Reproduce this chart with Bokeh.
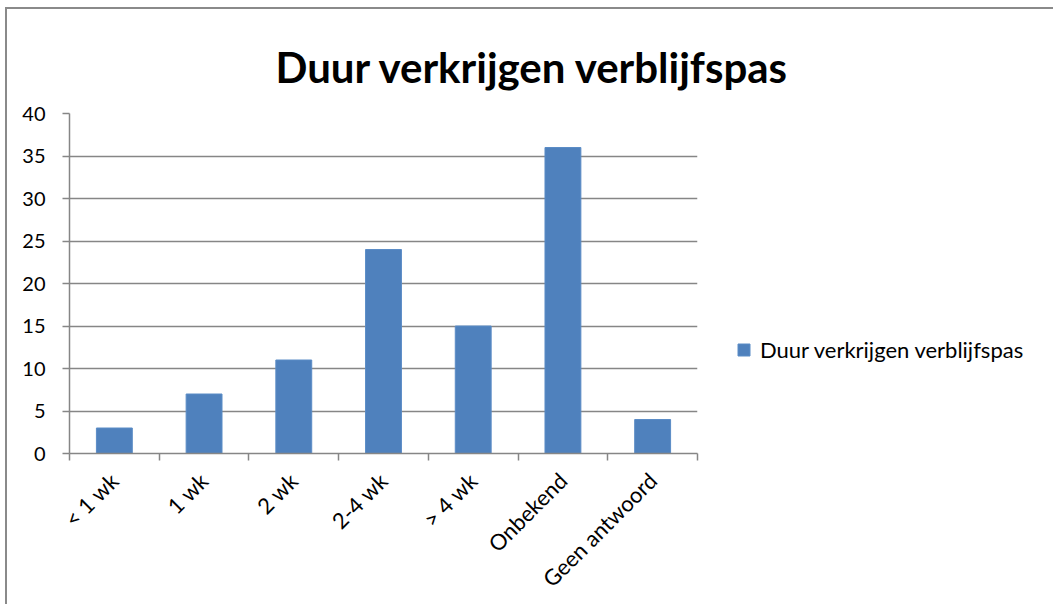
import math
from bokeh.plotting import figure
from bokeh.models import (Range1d, FixedTicker, CustomJSTickFormatter, Legend,
                          LegendItem, ColumnDataSource)
from bokeh.embed import file_html
from bokeh.resources import INLINE

# ---- data ----
categories = ["< 1 wk", "1 wk", "2 wk", "2-4 wk", "> 4 wk", "Onbekend", "Geen antwoord"]
values = [3, 7, 11, 24, 15, 36, 4]
y_ticks = [0, 5, 10, 15, 20, 25, 30, 35, 40]
series_name = "Duur verkrijgen verblijfspas"
chart_title = "Duur verkrijgen verblijfspas"

FONT = "Lato"
GRID = "#868686"
BAR = "#4F81BD"

p = figure(frame_width=628, frame_height=340, output_backend="svg", toolbar_location=None,
           x_range=Range1d(0, len(categories)), y_range=Range1d(0, 40),
           min_border_left=62, min_border_right=320,
           min_border_top=104, min_border_bottom=140)
p.margin = (7, 0, 0, 5)
p.styles = {"border-top": "2px solid #8a8a8a", "border-left": "2px solid #8a8a8a"}
p.outline_line_color = None
p.background_fill_color = "white"
p.border_fill_color = "white"

src = ColumnDataSource(dict(x=[i + 0.5 for i in range(len(categories))], top=values))
r = p.vbar(x="x", top="top", width=0.4, bottom=0, source=src,
           fill_color=BAR, line_color="#5b8cc6", line_width=1)

# title
p.title.text = chart_title
p.title.text_font = FONT
p.title.text_font_style = "bold"
p.title.text_font_size = "42px"
p.title.text_color = "black"
p.title.align = "left"
p.title.vertical_align = "top"
p.title.offset = 206
p.title.standoff = 40

# y axis
p.yaxis.ticker = FixedTicker(ticks=y_ticks, minor_ticks=[])
p.yaxis.major_tick_out = 7
p.yaxis.major_tick_in = 0
p.yaxis.minor_tick_line_color = None
p.yaxis.axis_line_color = GRID
p.yaxis.axis_line_width = 1.5
p.yaxis.major_tick_line_color = GRID
p.yaxis.major_tick_line_width = 1.5
p.yaxis.major_label_text_font = FONT
p.yaxis.major_label_text_font_size = "20px"
p.yaxis.major_label_text_color = "black"
p.yaxis.major_label_standoff = 17

p.ygrid.ticker = FixedTicker(ticks=y_ticks, minor_ticks=[])
p.ygrid.grid_line_color = GRID
p.ygrid.grid_line_width = 1.5
p.xgrid.visible = False

# x axis
p.xaxis.ticker = FixedTicker(ticks=[i + 0.5 for i in range(len(categories))],
                             minor_ticks=list(range(len(categories) + 1)))
p.xaxis.formatter = CustomJSTickFormatter(args=dict(labels=categories),
                                          code="return labels[Math.floor(tick)] || '';")
p.xaxis.major_tick_line_color = None
p.xaxis.minor_tick_out = 7
p.xaxis.minor_tick_in = 0
p.xaxis.minor_tick_line_color = GRID
p.xaxis.minor_tick_line_width = 1.5
p.xaxis.axis_line_color = GRID
p.xaxis.axis_line_width = 1.5
p.xaxis.major_label_orientation = math.pi / 4
p.xaxis.major_label_text_font = FONT
p.xaxis.major_label_text_font_size = "22px"
p.xaxis.major_label_text_color = "black"
p.xaxis.major_label_standoff = 16

# legend
legend = Legend(items=[LegendItem(label=series_name, renderers=[r])],
                location=(39, 90), padding=0, margin=0, spacing=0,
                glyph_width=15, glyph_height=15, label_standoff=9,
                label_text_font=FONT, label_text_font_size="22px",
                label_text_color="black",
                border_line_color=None, background_fill_alpha=0)
p.add_layout(legend, "right")

open("out.html", "w").write(file_html(p, INLINE))
